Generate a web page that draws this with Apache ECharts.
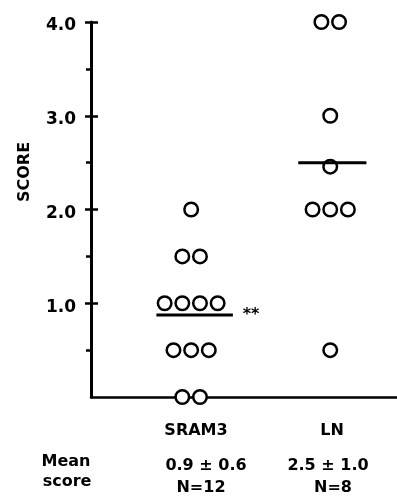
<!DOCTYPE html>
<html>
<head>
<meta charset="utf-8">
<script src="https://cdn.jsdelivr.net/npm/echarts@6/dist/echarts.min.js"></script>
<style>html,body{margin:0;padding:0;background:#fff;}#c{width:397px;height:503px;}</style>
</head>
<body>
<div id="c"></div>
<script>
// ---- data ----
const groups = ['SRAM3', 'LN'];
const sram3Scores = [0, 0, 0.5, 0.5, 0.5, 1, 1, 1, 1, 1.5, 1.5, 2];
const lnScores = [0.5, 2, 2, 2, 2.5, 3, 4, 4];
const meanText = ['0.9 \u00B1 0.6', '2.5 \u00B1 1.0'];
const nText = ['N=12', 'N=8'];
const yTicks = [1, 2, 3, 4];
const yMinorTicks = [0.5, 1.5, 2.5, 3.5];
const significance = '**';

// ---- layout / style ----
const FONT = '"DejaVu Sans", sans-serif';
const dotSpacing = 0.127;          // x-axis units between dots in a row
const groupPos = [1, 2];           // x-axis position of each group
const meanHalf = [[0.25, 0.30], [0.23, 0.26]];

function rowPoints(scores, center, m) {
  const byVal = {};
  scores.forEach(v => { (byVal[v] = byVal[v] || []).push(v); });
  const pts = [];
  Object.keys(byVal).forEach(k => {
    const n = byVal[k].length;
    for (let i = 0; i < n; i++) {
      const p = { value: [center + (i - (n - 1) / 2) * dotSpacing, Number(k)] };
      // a dot that sits on the mean bar is drawn nudged just below it
      if (Number(k) === m) p.symbolOffset = [0, 4];
      pts.push(p);
    }
  });
  return pts;
}
const mean = a => a.reduce((s, v) => s + v, 0) / a.length;
const allScores = [sram3Scores, lnScores];

const series = [];
allScores.forEach((sc, gi) => {
  const m = mean(sc);
  series.push({
    type: 'line', z: 5, symbol: 'none', silent: true,
    data: [[groupPos[gi] - meanHalf[gi][0], m], [groupPos[gi] + meanHalf[gi][1], m]],
    lineStyle: { color: '#000', width: 3 }
  });
  series.push({
    type: 'scatter', z: 3, clip: false, symbol: 'circle', symbolSize: 13.5,
    data: rowPoints(sc, groupPos[gi], m),
    itemStyle: { color: '#fff', borderColor: '#000', borderWidth: 2.5, opacity: 1 }
  });
});

const chart = echarts.init(document.getElementById('c'), null, { renderer: 'canvas' });
const baseY = { type: 'value', min: 0, max: 4, position: 'left', splitLine: { show: false } };
const txt = (x, y, text) => ({ type: 'text', x: x, y: y,
  style: { text: text, font: 'bold 16px ' + FONT, fill: '#000', align: 'center', verticalAlign: 'middle' } });
chart.setOption({
  animation: false,
  backgroundColor: '#fff',
  grid: { left: 91, right: 0, top: 22, bottom: 106 },
  xAxis: {
    type: 'value', min: 0.28, max: 2.48,
    axisLine: { show: true, lineStyle: { color: '#000', width: 2.5 } },
    axisTick: { show: false }, axisLabel: { show: false }, splitLine: { show: false }
  },
  yAxis: [
    Object.assign({}, baseY, {
      axisLine: { show: true, lineStyle: { color: '#000', width: 3 } },
      axisTick: { show: true, customValues: yTicks, length: 6, lineStyle: { color: '#000', width: 2.5 } },
      axisLabel: { show: true, customValues: yTicks, margin: 15, formatter: v => '{t|' + v.toFixed(1) + '}',
        rich: { t: { color: '#000', fontFamily: FONT, fontWeight: 'bold', fontSize: 17, padding: [8, 0, 0, 0] } } }
    }),
    Object.assign({}, baseY, {
      axisLine: { show: false },
      axisTick: { show: true, inside: true, customValues: yTicks, length: 7, lineStyle: { color: '#000', width: 2.5 } },
      axisLabel: { show: false }
    }),
    Object.assign({}, baseY, {
      axisLine: { show: false },
      axisTick: { show: true, customValues: yMinorTicks, length: 5, lineStyle: { color: '#000', width: 2.5 } },
      axisLabel: { show: false }
    })
  ],
  series: series,
  graphic: [
    { type: 'text', x: 25, y: 172, rotation: Math.PI / 2,
      style: { text: 'SCORE', font: 'bold 16px ' + FONT, fill: '#000', align: 'center', verticalAlign: 'middle' } },
    txt(251, 315, significance),
    txt(196, 431, groups[0]),
    txt(332, 431, groups[1]),
    txt(206, 466, meanText[0]),
    txt(328, 466, meanText[1]),
    txt(201, 488, nText[0]),
    txt(333, 488, nText[1]),
    txt(66, 462, 'Mean'),
    txt(67, 482, 'score')
  ]
});
</script>
</body>
</html>
